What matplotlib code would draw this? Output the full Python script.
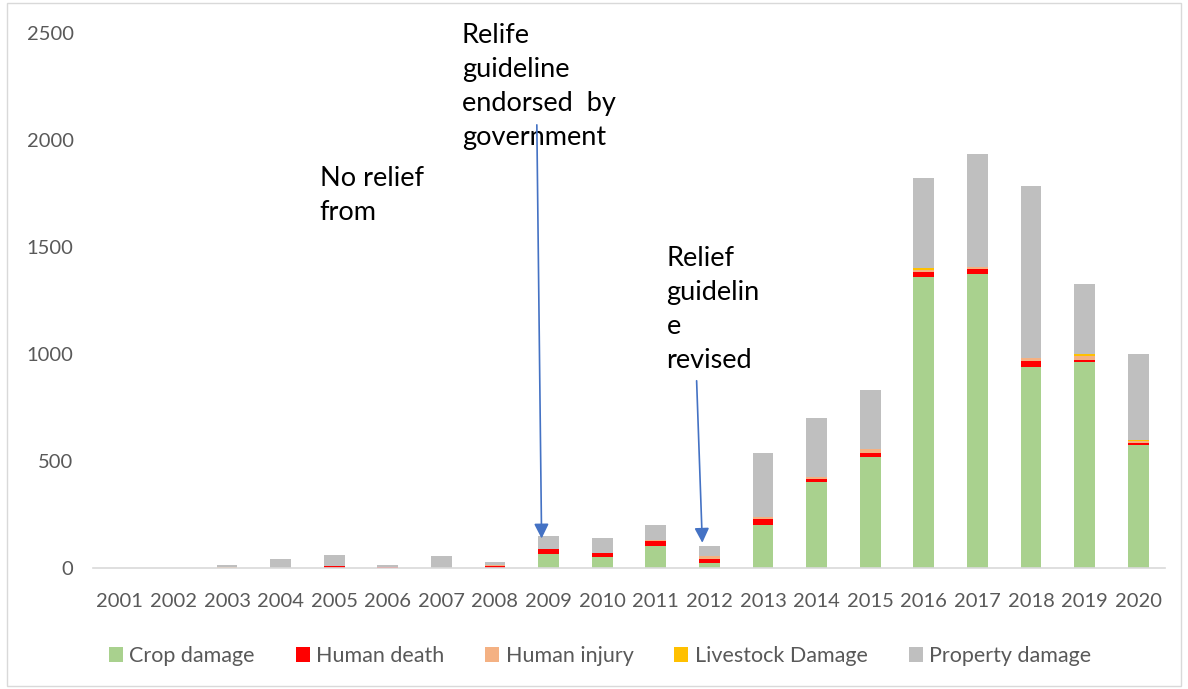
import matplotlib.pyplot as plt
import numpy as np
from matplotlib.patches import Rectangle

years = [str(y) for y in range(2001, 2021)]
crop_damage = [0, 0, 0, 0, 0, 0, 0, 0, 67, 50, 104, 22, 201, 403, 520, 1361, 1374, 941, 964, 575]
human_death = [0, 0, 2, 0, 9, 3, 0, 9, 20, 19, 20, 22, 28, 12, 16, 23, 25, 28, 9, 9]
human_injury = [0, 0, 2, 0, 0, 2, 0, 3, 0, 3, 9, 14, 9, 9, 19, 11, 9, 11, 20, 9]
livestock_damage = [0, 0, 0, 0, 0, 0, 0, 2, 0, 0, 0, 0, 0, 0, 0, 6, 0, 0, 8, 6]
property_damage = [0, 0, 10, 42, 50, 7, 55, 15, 64, 68, 68, 46, 298, 276, 277, 420, 525, 805, 325, 401]

series = [
    ("Crop damage", crop_damage, "#a9d18e"),
    ("Human death", human_death, "#ff0000"),
    ("Human injury", human_injury, "#f4b183"),
    ("Livestock Damage", livestock_damage, "#ffc000"),
    ("Property damage", property_damage, "#bfbfbf"),
]

plt.rcParams["font.family"] = ["Lato", "DejaVu Sans"]

fig = plt.figure(figsize=(11.88, 6.89), dpi=100)
ax = fig.add_axes([0.0783, 0.1756, 0.9023, 0.7764])

x = np.arange(len(years))
bottom = np.zeros(len(years))
for label, values, color in series:
    ax.bar(x, values, width=0.39, bottom=bottom, color=color, label=label)
    bottom += np.array(values)

ax.set_xlim(-0.5, len(years) - 0.5)
ax.set_ylim(0, 2500)
ax.set_yticks(range(0, 2501, 500))
ax.set_xticks(x)
ax.set_xticklabels(years)
ax.tick_params(axis="both", length=0, labelsize=14.5, colors="#595959")
ax.tick_params(axis="y", pad=14)
ax.tick_params(axis="x", pad=18)
for side in ["top", "right", "left"]:
    ax.spines[side].set_visible(False)
ax.spines["bottom"].set_color("#d9d9d9")
ax.spines["bottom"].set_linewidth(1.2)

# annotations
note_kw = dict(fontsize=19.5, va="top", ha="left", linespacing=1.45)
ax.text(3.73, 1880, "No relief\nfrom", **note_kw)
ax.text(6.38, 2545, "Relife\nguideline\nendorsed  by\ngovernment", **note_kw)
ax.text(10.2, 1505, "Relief\nguidelin\ne\nrevised", **note_kw)

arrow_style = dict(arrowstyle="-|>", color="#4472c4", lw=1.2, mutation_scale=22)
ax.annotate("", xy=(7.87, 125), xytext=(7.78, 2084), arrowprops=arrow_style)
ax.annotate("", xy=(10.87, 105), xytext=(10.76, 888), arrowprops=arrow_style)

leg = fig.legend(loc="lower center", bbox_to_anchor=(0.505, 0.005), ncol=5, frameon=False,
                 fontsize=15.5, handlelength=0.65, handleheight=0.65, handletextpad=0.3,
                 columnspacing=1.9)
for t in leg.get_texts():
    t.set_color("#595959")

fig.patches.append(Rectangle((0.006, 0.005), 0.988, 0.99, transform=fig.transFigure,
                             fill=False, edgecolor="#d9d9d9", lw=1))

fig.savefig("out.png", dpi=100)
